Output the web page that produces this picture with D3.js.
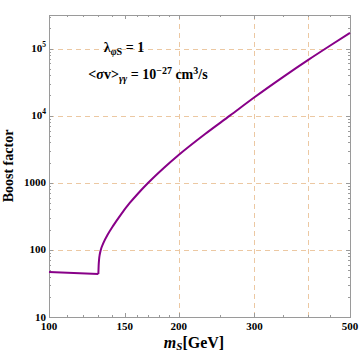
<!DOCTYPE html>
<html>
<head>
<meta charset="utf-8">
<script src="https://cdn.jsdelivr.net/npm/d3@7"></script>
<style>
body{margin:0;background:#fff;}
text{font-family:"Liberation Serif","DejaVu Serif",serif;font-weight:bold;}
</style>
</head>
<body>
<script>
var w = 360, h = 354;
var pL = 49, pR = 350, pT = 15, pB = 317;

// curve
var mass  = [100, 130.2, 130.4, 130.7, 131.2, 131.9, 133.7, 137, 141, 147, 154, 161, 170, 185, 200, 230, 263, 300, 350, 400, 450, 500];
var boost = [47, 43.8, 58, 72, 86, 100, 126, 171, 230, 339, 500, 693, 1000, 1677, 2596, 5290, 10000, 18800, 37900, 67800, 111000, 171000];

var xTicks = [100, 150, 200, 300, 500];
var xMinor = [110, 120, 130, 140, 160, 170, 180, 190, 250, 350, 400, 450];
var xGrid = [200, 300, 400];
var yTicks = [10, 100, 1000, 1e4, 1e5];
var yLabels = ["10", "100", "1000", "10^4", "10^5"];
var yGrid = [100, 1000, 1e4, 1e5];

var x = d3.scaleLog().domain([100, 500]).range([pL, pR]);
var y = d3.scaleLog().domain([10, Math.pow(10, 5.5)]).range([pB, pT]);

var svg = d3.select("body").append("svg")
    .attr("width", w).attr("height", h);

var gridCol = "#ecc8a2";
svg.append("g").selectAll("line").data(yGrid).enter().append("line")
    .attr("x1", pL).attr("x2", pR)
    .attr("y1", function(d){return Math.round(y(d)) + 0.5;}).attr("y2", function(d){return Math.round(y(d)) + 0.5;})
    .attr("stroke", gridCol).attr("stroke-width", 1).attr("stroke-dasharray", "5,4");
svg.append("g").selectAll("line").data(xGrid).enter().append("line")
    .attr("y1", pT).attr("y2", pB)
    .attr("x1", function(d){return Math.round(x(d)) + 0.5;}).attr("x2", function(d){return Math.round(x(d)) + 0.5;})
    .attr("stroke", gridCol).attr("stroke-width", 1).attr("stroke-dasharray", "5,4");

// minor y ticks
var yMinor = [];
for (var e = 1; e <= 5; e++) {
    for (var k = 2; k <= 9; k++) {
        var v = k * Math.pow(10, e);
        if (v < Math.pow(10, 5.5)) yMinor.push(v);
    }
}

var frameCol = "#9a9a9a";
var ticks = svg.append("g").attr("stroke", frameCol).attr("stroke-width", 1);
function yTick(v, len) {
    var yy = Math.round(y(v)) + 0.5;
    ticks.append("line").attr("x1", pL).attr("x2", pL + len).attr("y1", yy).attr("y2", yy);
    ticks.append("line").attr("x1", pR).attr("x2", pR - len).attr("y1", yy).attr("y2", yy);
}
function xTick(v, len) {
    var xx = Math.round(x(v)) + 0.5;
    ticks.append("line").attr("y1", pB).attr("y2", pB - len).attr("x1", xx).attr("x2", xx);
    ticks.append("line").attr("y1", pT).attr("y2", pT + len).attr("x1", xx).attr("x2", xx);
}
yTicks.forEach(function(v){yTick(v, 4);});
yMinor.forEach(function(v){yTick(v, 2);});
xTicks.forEach(function(v){xTick(v, 4);});
xMinor.forEach(function(v){xTick(v, 2);});

svg.append("rect")
    .attr("x", pL + 0.5).attr("y", pT + 0.5)
    .attr("width", pR - pL).attr("height", pB - pT)
    .attr("fill", "none").attr("stroke", frameCol).attr("stroke-width", 1);

// curve
var pts = mass.map(function(m, i){return [m, boost[i]];});
var line = d3.line()
    .x(function(d){return x(d[0]);})
    .y(function(d){return y(d[1]);})
    .curve(d3.curveMonotoneX);
svg.append("path").datum(pts.slice(0, 2))
    .attr("d", d3.line().x(function(d){return x(d[0]);}).y(function(d){return y(d[1]);}))
    .attr("fill", "none").attr("stroke", "#880088").attr("stroke-width", 2);
svg.append("path").datum(pts.slice(1))
    .attr("d", line)
    .attr("fill", "none").attr("stroke", "#880088").attr("stroke-width", 2);

// tick labels
svg.append("g").selectAll("text").data(xTicks).enter().append("text")
    .attr("x", function(d){return x(d);})
    .attr("y", 330)
    .attr("text-anchor", "middle")
    .attr("font-size", 11)
    .text(function(d){return d;});

var yl = svg.append("g");
yTicks.forEach(function(v, i){
    var t = yl.append("text")
        .attr("x", pL - 3)
        .attr("y", y(v) + 3.5)
        .attr("text-anchor", "end")
        .attr("font-size", 11);
    var lab = yLabels[i];
    if (lab.indexOf("^") > 0) {
        var p = lab.split("^");
        t.append("tspan").text(p[0]);
        t.append("tspan").attr("dy", -5).attr("font-size", 7.5).text(p[1]);
    } else {
        t.text(lab);
    }
});

// axis titles
svg.append("text")
    .attr("transform", "translate(13," + ((pT + pB) / 2) + ") rotate(-90)")
    .attr("text-anchor", "middle")
    .attr("font-size", 14)
    .text("Boost factor");

var xt = svg.append("text")
    .attr("x", 194).attr("y", 348)
    .attr("text-anchor", "middle")
    .attr("font-size", 16);
xt.append("tspan").attr("font-style", "italic").text("m");
xt.append("tspan").attr("font-style", "italic").attr("font-size", 11).attr("dy", 2).text("S");
xt.append("tspan").attr("dy", -2).text("[GeV]");

// annotation
var a1 = svg.append("text")
    .attr("x", 124).attr("y", 52)
    .attr("text-anchor", "middle")
    .attr("font-size", 14);
a1.append("tspan").text("λ");
a1.append("tspan").attr("font-size", 10).attr("dy", 3).attr("font-style", "italic").text("φ");
a1.append("tspan").attr("font-size", 10).text("S");
a1.append("tspan").attr("dy", -3).text(" = 1");

var a2 = svg.append("text")
    .attr("x", 148).attr("y", 79)
    .attr("text-anchor", "middle")
    .attr("font-size", 14);
a2.append("tspan").text("<");
a2.append("tspan").attr("font-style", "italic").text("σ");
a2.append("tspan").text("v>");
a2.append("tspan").attr("font-size", 10).attr("dy", 3).attr("font-style", "italic").text("γγ");
a2.append("tspan").attr("dy", -3).text(" = 10");
a2.append("tspan").attr("font-size", 10).attr("dy", -5).text("−27");
a2.append("tspan").attr("dy", 5).text(" cm");
a2.append("tspan").attr("font-size", 10).attr("dy", -5).text("3");
a2.append("tspan").attr("dy", 5).text("/s");
</script>
</body>
</html>
